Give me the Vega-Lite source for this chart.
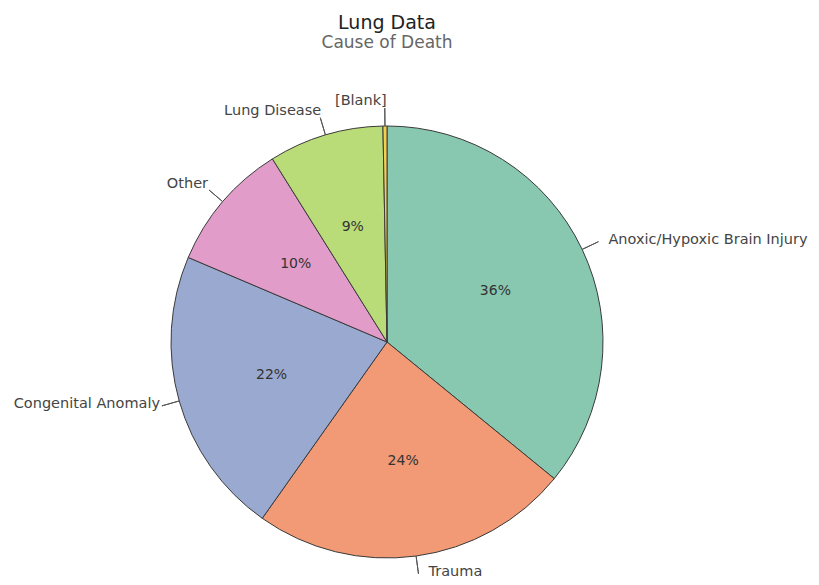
{
  "$schema": "https://vega.github.io/schema/vega-lite/v6.json",
  "autosize": "none",
  "width": 774,
  "height": 564,
  "padding": {"top": 60, "left": 0, "right": 45, "bottom": 0},
  "background": "white",
  "title": {
    "text": "Lung Data",
    "subtitle": "Cause of Death",
    "anchor": "middle",
    "font": "DejaVu Sans",
    "fontSize": 19,
    "fontWeight": "normal",
    "color": "#222222",
    "subtitleFont": "DejaVu Sans",
    "subtitleFontSize": 17,
    "subtitleColor": "#666666",
    "subtitlePadding": 2,
    "offset": 9
  },
  "config": {"view": {"stroke": null}},
  "data": {
    "values": [
      {"cause": "Anoxic/Hypoxic Brain Injury", "pct": 35.9, "rank": 1},
      {"cause": "Trauma", "pct": 23.9, "rank": 2},
      {"cause": "Congenital Anomaly", "pct": 21.6, "rank": 3},
      {"cause": "Other", "pct": 9.7, "rank": 4},
      {"cause": "Lung Disease", "pct": 8.6, "rank": 5},
      {"cause": "[Blank]", "pct": 0.3, "rank": 6}
    ]
  },
  "transform": [
    {"calculate": "datum.pct > 1 ? format(datum.pct, '.0f') + '%' : ''", "as": "pctLabel"},
    {"calculate": "(datum.cause == 'Anoxic/Hypoxic Brain Injury' || datum.cause == 'Trauma') ? datum.cause : ''", "as": "rightLabel"},
    {"calculate": "(datum.cause == 'Anoxic/Hypoxic Brain Injury' || datum.cause == 'Trauma') ? '' : datum.cause", "as": "leftLabel"}
  ],
  "encoding": {
    "theta": {"field": "pct", "type": "quantitative", "stack": true},
    "order": {"field": "rank", "type": "quantitative", "sort": "ascending"}
  },
  "layer": [
    {
      "mark": {"type": "arc", "outerRadius": 216, "stroke": "#3a3a3a", "strokeWidth": 1},
      "encoding": {
        "color": {
          "field": "cause",
          "type": "nominal",
          "legend": null,
          "scale": {
            "domain": ["Anoxic/Hypoxic Brain Injury", "Trauma", "Congenital Anomaly", "Other", "Lung Disease", "[Blank]"],
            "range": ["#88c8b0", "#f19a75", "#9aa9d0", "#e29cc9", "#b9dc78", "#f5cf50"]
          }
        }
      }
    },
    {
      "mark": {"type": "arc", "innerRadius": 216, "outerRadius": 234, "padAngle": 3, "fill": null, "stroke": "#555555", "strokeWidth": 1},
      "encoding": {}
    },
    {
      "mark": {"type": "text", "radius": 120, "font": "DejaVu Sans", "fontSize": 14, "color": "#333333"},
      "encoding": {"text": {"field": "pctLabel"}}
    },
    {
      "mark": {"type": "text", "radius": 234, "align": "left", "baseline": "middle", "dx": 10, "dy": -2, "font": "DejaVu Sans", "fontSize": 14.5, "color": "#444444"},
      "encoding": {"text": {"field": "rightLabel"}}
    },
    {
      "mark": {"type": "text", "radius": 238, "align": "right", "baseline": "middle", "dx": 2, "dy": -3, "font": "DejaVu Sans", "fontSize": 14.5, "color": "#444444"},
      "encoding": {"text": {"field": "leftLabel"}}
    }
  ]
}
